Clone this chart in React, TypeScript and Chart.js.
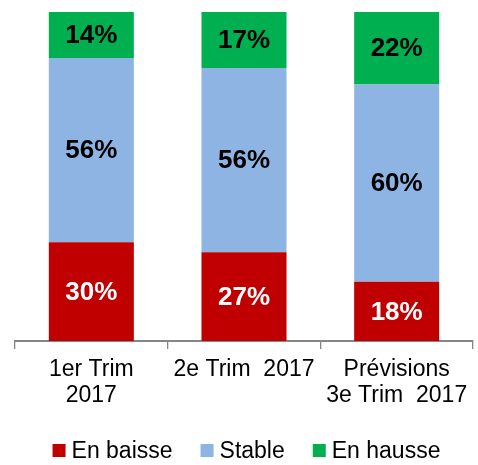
import React, { useEffect, useRef } from "react";
import { Chart, registerables } from "chart.js";

Chart.register(...registerables);

const categories: string[][] = [["1er Trim", "2017"], ["2e Trim  2017"], ["Prévisions", "3e Trim  2017"]];
const seriesNames = ["En baisse", "Stable", "En hausse"];
const enBaisse = [30, 27, 18];
const stable = [56, 56, 60];
const enHausse = [14, 17, 22];
const colors = ["#C00000", "#8EB4E3", "#00B050"];
const labelColors = ["#FFFFFF", "#000000", "#000000"];

const FONT = "'Liberation Sans', Arial, sans-serif";

const valueLabels = {
  id: "valueLabels",
  afterDatasetsDraw(chart: any) {
    const ctx = chart.ctx;
    ctx.save();
    ctx.font = `bold 26px ${FONT}`;
    ctx.textAlign = "center";
    ctx.textBaseline = "middle";
    chart.data.datasets.forEach((ds: any, di: number) => {
      const meta = chart.getDatasetMeta(di);
      meta.data.forEach((el: any, i: number) => {
        const v = ds.data[i];
        ctx.fillStyle = labelColors[di];
        ctx.fillText(`${v}%`, el.x, (el.y + el.base) / 2 + 1);
      });
    });
    ctx.restore();
  },
};

const customLegend = {
  id: "customLegend",
  afterDraw(chart: any) {
    const ctx = chart.ctx;
    ctx.save();
    ctx.font = `23px ${FONT}`;
    const box = 13;
    const gap = 6;
    const pad = 28;
    const items = chart.data.datasets.map((ds: any) => ({
      text: ds.label,
      color: ds.backgroundColor,
      w: box + gap + ctx.measureText(ds.label).width,
    }));
    const total = items.reduce((s: number, it: any) => s + it.w, 0) + pad * (items.length - 1);
    const cx = (chart.chartArea.left + chart.width) / 2;
    let x = cx - total / 2;
    const y = 450.5;
    ctx.textBaseline = "middle";
    ctx.textAlign = "left";
    items.forEach((it: any) => {
      ctx.fillStyle = it.color;
      ctx.fillRect(x, y - box / 2, box, box);
      ctx.fillStyle = "#000000";
      ctx.fillText(it.text, x + box + gap, y + 1);
      x += it.w + pad;
    });
    ctx.restore();
  },
};

export default function App() {
  const ref = useRef<HTMLCanvasElement | null>(null);
  useEffect(() => {
    if (!ref.current) return;
    const chart = new Chart(ref.current, {
      type: "bar",
      data: {
        labels: categories,
        datasets: [
          { label: seriesNames[0], data: enBaisse, backgroundColor: colors[0] },
          { label: seriesNames[1], data: stable, backgroundColor: colors[1] },
          { label: seriesNames[2], data: enHausse, backgroundColor: colors[2] },
        ],
      },
      options: {
        responsive: false,
        animation: false,
        datasets: { bar: { barPercentage: 0.557, categoryPercentage: 1 } },
        layout: { padding: { left: 15, right: 5, top: 12, bottom: 48 } },
        plugins: { legend: { display: false }, tooltip: { enabled: false } },
        scales: {
          x: {
            stacked: true,
            grid: {
              display: true,
              drawOnChartArea: false,
              drawTicks: true,
              tickLength: 8,
              color: "#868686",
              lineWidth: 1.3,
              offset: true,
            },
            border: { display: true, color: "#868686", width: 2 },
            ticks: {
              color: "#000000",
              padding: 8,
              maxRotation: 0,
              autoSkip: false,
              font: { family: FONT, size: 23, lineHeight: 1.13 },
            },
          },
          y: { stacked: true, display: false, min: 0, max: 100 },
        },
      },
      plugins: [valueLabels, customLegend],
    });
    return () => chart.destroy();
  }, []);
  return (
    <div style={{ position: "absolute", left: 0, top: 0, width: 478, height: 465, background: "#fff" }}>
      <canvas ref={ref} width={478} height={465} style={{ display: "block" }} />
    </div>
  );
}
